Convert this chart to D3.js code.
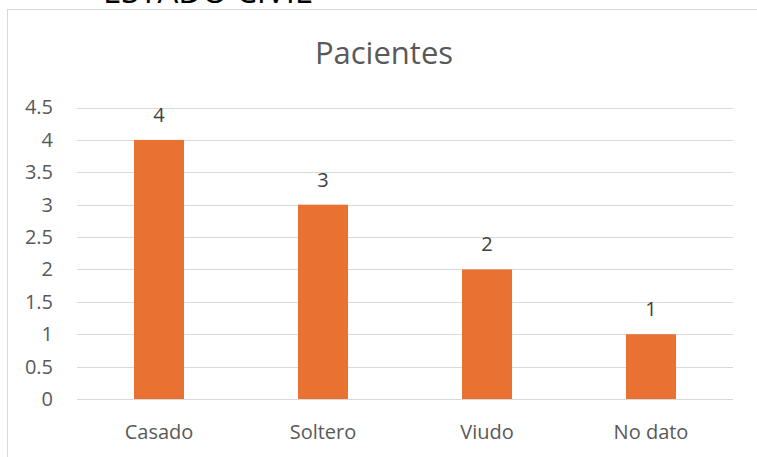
<!DOCTYPE html>
<html>
<head>
<meta charset="utf-8">
<script src="https://cdn.jsdelivr.net/npm/d3@7"></script>
<style>
  html, body { margin: 0; padding: 0; background: #fff; }
  svg { display: block; }
</style>
</head>
<body>
<svg id="chart" width="757" height="457"></svg>
<script>
const categories = ["Casado", "Soltero", "Viudo", "No dato"];
const values = [4, 3, 2, 1];
const yTicks = [0, 0.5, 1, 1.5, 2, 2.5, 3, 3.5, 4, 4.5];
const chartTitle = "Pacientes";
const pageHeading = "ESTADO CIVIL";

const svg = d3.select("#chart");
const font = "'Open Sans', 'Liberation Sans', sans-serif";
const textColor = "#595959";

// heading partly cut off at top (as in the reference)
svg.append("text")
  .attr("x", 103).attr("y", 3)
  .attr("textLength", 209).attr("lengthAdjust", "spacingAndGlyphs")
  .attr("font-family", font).attr("font-size", 33)
  .attr("fill", "#000")
  .text(pageHeading);

// chart frame
svg.append("rect")
  .attr("x", 7.5).attr("y", 9.5)
  .attr("width", 760).attr("height", 470)
  .attr("fill", "#fff").attr("stroke", "#D9D9D9").attr("stroke-width", 1);

const x = d3.scaleBand()
  .domain(categories)
  .range([77, 733])
  .paddingInner(0.695)
  .paddingOuter(0.3475);

const y = d3.scaleLinear().domain([0, 4.5]).range([399, 107.5]);

// gridlines
svg.append("g").selectAll("line")
  .data(yTicks).join("line")
  .attr("x1", 77).attr("x2", 733)
  .attr("y1", d => Math.round(y(d)) + 0.5).attr("y2", d => Math.round(y(d)) + 0.5)
  .attr("stroke", "#D9D9D9").attr("stroke-width", 1);

// y axis labels
const yAxis = d3.axisLeft(y).tickValues(yTicks).tickSize(0).tickPadding(0)
  .tickFormat(d => String(d));
const yg = svg.append("g").attr("transform", "translate(53,0)").call(yAxis);
yg.select(".domain").remove();
yg.selectAll("text")
  .attr("font-family", font).attr("font-size", 20).attr("fill", textColor);

// x axis labels
const xAxis = d3.axisBottom(x).tickSize(0).tickPadding(0);
const xg = svg.append("g").attr("transform", "translate(0,439)").call(xAxis);
xg.select(".domain").remove();
xg.selectAll("text")
  .attr("dy", 0)
  .attr("font-family", font).attr("font-size", 20).attr("fill", textColor);

// bars
svg.append("g").selectAll("rect")
  .data(values).join("rect")
  .attr("x", (d, i) => x(categories[i]))
  .attr("y", d => y(d))
  .attr("width", x.bandwidth())
  .attr("height", d => y(0) - y(d))
  .attr("fill", "#E97132");

// data labels
svg.append("g").selectAll("text")
  .data(values).join("text")
  .attr("x", (d, i) => x(categories[i]) + x.bandwidth() / 2)
  .attr("y", d => y(d) - 18)
  .attr("text-anchor", "middle")
  .attr("font-family", font).attr("font-size", 20).attr("fill", "#404040")
  .text(d => d);

// title
svg.append("text")
  .attr("x", 384).attr("y", 64)
  .attr("text-anchor", "middle")
  .attr("font-family", font).attr("font-size", 31).attr("fill", textColor)
  .text(chartTitle);
</script>
</body>
</html>
